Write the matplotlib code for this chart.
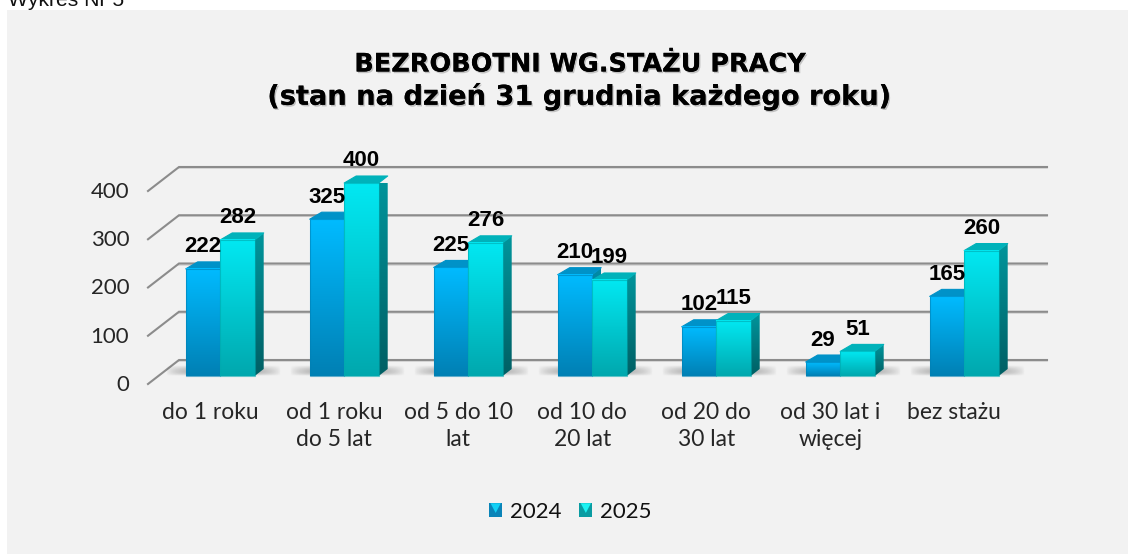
import numpy as np
import matplotlib
matplotlib.use('Agg')
import matplotlib.pyplot as plt
from matplotlib.patches import Patch, Polygon, Rectangle
from matplotlib.legend_handler import HandlerPatch
from matplotlib.colors import to_rgb
import matplotlib.patheffects as pe

kategorie = ['do 1 roku', 'od 1 roku\ndo 5 lat', 'od 5 do 10\nlat', 'od 10 do\n20 lat',
             'od 20 do\n30 lat', 'od 30 lat i\nwięcej', 'bez stażu']
wartosci_2024 = [222, 325, 225, 210, 102, 29, 165]
wartosci_2025 = [282, 400, 276, 199, 115, 51, 260]
y_ticks = [0, 100, 200, 300, 400]
serie = ['2024', '2025']
tytul_1 = 'BEZROBOTNI WG.STAŻU PRACY'
tytul_2 = '(stan na dzień 31 grudnia każdego roku)'

# skala: piksele na jednostke danych
PX_X = 124.0
PX_Y = 193.0 / 400
SZER = 34.5 / PX_X

# kolory scian: przod gora/dol, bok gora/dol, wierzch
kolory = [
    dict(przod=('#00BBFF', '#0080B4'), bok=('#008CA8', '#005F78'), wierzch='#0092C8', jasny='#12D0F5'),
    dict(przod=('#02E8F2', '#00A8AE'), bok=('#00959C', '#005F64'), wierzch='#00B2BA', jasny='#1CF2F2'),
]


class UchwytSkos(HandlerPatch):
    # maly kwadrat z jasniejszym trojkatem, jak w legendzie wykresu
    def create_artists(self, legend, orig, xd, yd, w, h, fontsize, trans):
        tlo = Rectangle((-xd, -yd), w, h, facecolor=orig.get_facecolor(), edgecolor='none', transform=trans)
        blask = Polygon([(-xd + 0.1 * w, -yd + h), (-xd + 0.9 * w, -yd + h), (-xd + 0.5 * w, -yd + 0.3 * h)],
                        closed=True, facecolor=orig.get_edgecolor(), edgecolor='none', transform=trans)
        return [tlo, blask]


def gradient(ax, x0, x1, y0, y1, gora, dol, zorder, clip=None):
    g = np.linspace(0, 1, 64)[:, None, None]
    img = (1 - g) * np.array(to_rgb(gora)) + g * np.array(to_rgb(dol))
    im = ax.imshow(img, extent=(x0, x1, y0, y1), origin='upper', aspect='auto',
                   zorder=zorder, interpolation='bilinear')
    im.set_clip_on(clip is not None)
    if clip is not None:
        im.set_clip_path(clip)
    return im


def slupek(ax, x, v, kol, zorder):
    dx = 9 / PX_X
    dxl = 12 / PX_X
    dy = 7 / PX_Y
    szer = SZER

    # cien na podlodze
    cx = np.linspace(-1, 1, 120)
    cy = np.linspace(-1, 1, 24)
    xx, yy = np.meshgrid(cx, cy)
    a = np.clip(1 - xx ** 2, 0, 1) ** 0.7 * np.clip(1 - ((yy + 1) / 2) ** 2, 0, 1) * (yy + 1) / 2
    rgba = np.zeros((24, 120, 4))
    rgba[..., 3] = a * 0.7
    im = ax.imshow(rgba, extent=(x - 20 / PX_X, x + szer + 26 / PX_X, 0, 11 / PX_Y), origin='upper',
                   aspect='auto', zorder=1.5, interpolation='bilinear')
    im.set_clip_on(False)

    # bok
    bok = Polygon([(x + szer, 0), (x + szer + dx, dy), (x + szer + dx, v + dy), (x + szer, v)],
                  closed=True, transform=ax.transData, facecolor='none', edgecolor='none')
    ax.add_patch(bok)
    bok.set_clip_on(False)
    gradient(ax, x + szer, x + szer + dx, 0, v + dy, kol['bok'][0], kol['bok'][1], zorder, clip=bok)

    # wierzch
    wierzch = Polygon([(x, v), (x + dxl, v + dy), (x + szer + dx, v + dy), (x + szer, v)], closed=True,
                      facecolor=kol['wierzch'], edgecolor=kol['wierzch'], linewidth=0.8,
                      joinstyle='round', zorder=zorder, clip_on=False)
    ax.add_patch(wierzch)

    # przod
    gradient(ax, x, x + szer, 0, v, kol['przod'][0], kol['przod'][1], zorder + 0.1)
    ax.add_patch(Rectangle((x, 0), szer, v, facecolor='none', edgecolor=kol['przod'][1], alpha=0.6,
                           linewidth=0.8, zorder=zorder + 0.2, clip_on=False))


fig = plt.figure(figsize=(11.28, 5.54), dpi=100, facecolor='white')

# tekst nad panelem
fig.text(8 / 1128, 1 - 6 / 554, 'Wykres Nr 5', family='Liberation Sans', fontsize=15.2,
         color='#111111', ha='left', va='baseline', zorder=-10)
fig.add_artist(Rectangle((7 / 1128, 0), 1 - 7 / 1128, 1 - 10 / 554, transform=fig.transFigure,
                         facecolor='#F2F2F2', edgecolor='none', zorder=-5))

ax = fig.add_axes([158.2 / 1128, (554 - 376) / 554, 868 / 1128, 193 / 554])
ax.axis('off')
ax.patch.set_alpha(0)

# siatka (tylna sciana i skos przy osi)
przod_x, tyl_x, koniec_x = -10.2 / PX_X, 20.8 / PX_X, 7 + 20.8 / PX_X
przod_dy, tyl_dy = -8 / PX_Y, 16 / PX_Y
for v in y_ticks:
    ax.plot([tyl_x, koniec_x], [v + tyl_dy - 1.2 / PX_Y] * 2, color='#D4D4D4', lw=1.2, clip_on=False, zorder=0.9)
    ax.plot([przod_x, tyl_x, koniec_x], [v + przod_dy, v + tyl_dy, v + tyl_dy], color='#8C8C8C', lw=1.5,
            clip_on=False, zorder=1, solid_joinstyle='miter')
    ax.annotate(str(v), (0, v), xytext=(129 - 158, -9), textcoords='offset pixels',
                ha='right', va='center', fontsize=16, family='Lato', color='#262626',
                annotation_clip=False)

for i, nazwa in enumerate(kategorie):
    x0 = i + 0.5 - SZER
    slupek(ax, x0, wartosci_2024[i], kolory[0], 3 + i)
    slupek(ax, x0 + SZER, wartosci_2025[i], kolory[1], 3.5 + i)
    for v, xs in [(wartosci_2024[i], x0 + SZER / 2), (wartosci_2025[i], x0 + 1.5 * SZER)]:
        ax.annotate(str(v), (xs, v), xytext=(0, 22), textcoords='offset pixels', ha='center', va='center',
                    fontsize=16, family='Liberation Sans', weight='bold', color='black', zorder=20,
                    annotation_clip=False)
    ax.annotate(nazwa, (i + 0.5, 0), xytext=(-10, -26), textcoords='offset pixels', ha='center', va='top',
                fontsize=16.5, family='Lato', color='#262626', linespacing=1.38,
                annotation_clip=False)

ax.set_xlim(0, 7)
ax.set_ylim(0, 400)

cien = [pe.withSimplePatchShadow(offset=(1, -1.2), alpha=0.2, shadow_rgbFace='black'), pe.Normal()]
fig.text(579.5 / 1128, 1 - 64.5 / 554, tytul_1, family='DejaVu Sans', weight='bold', fontsize=18.4, color='black',
         ha='center', va='center', path_effects=cien)
fig.text(579 / 1128, 1 - 97 / 554, tytul_2, family='DejaVu Sans', weight='bold', fontsize=19.6, color='black',
         ha='center', va='center', path_effects=cien)

uchwyty = [Patch(facecolor='#0A84B8', edgecolor=kolory[0]['jasny']),
           Patch(facecolor='#0A9CA2', edgecolor=kolory[1]['jasny'])]
fig.legend(uchwyty, serie, loc='center', bbox_to_anchor=(570.5 / 1128, 1 - 512 / 554), ncol=2, frameon=False,
           prop={'family': 'Lato', 'size': 16}, labelcolor='#111111',
           handlelength=0.58, handleheight=0.58, handletextpad=0.36, columnspacing=0.8,
           handler_map={Patch: UchwytSkos()})

fig.savefig('out.png', dpi=100, facecolor=fig.get_facecolor())
